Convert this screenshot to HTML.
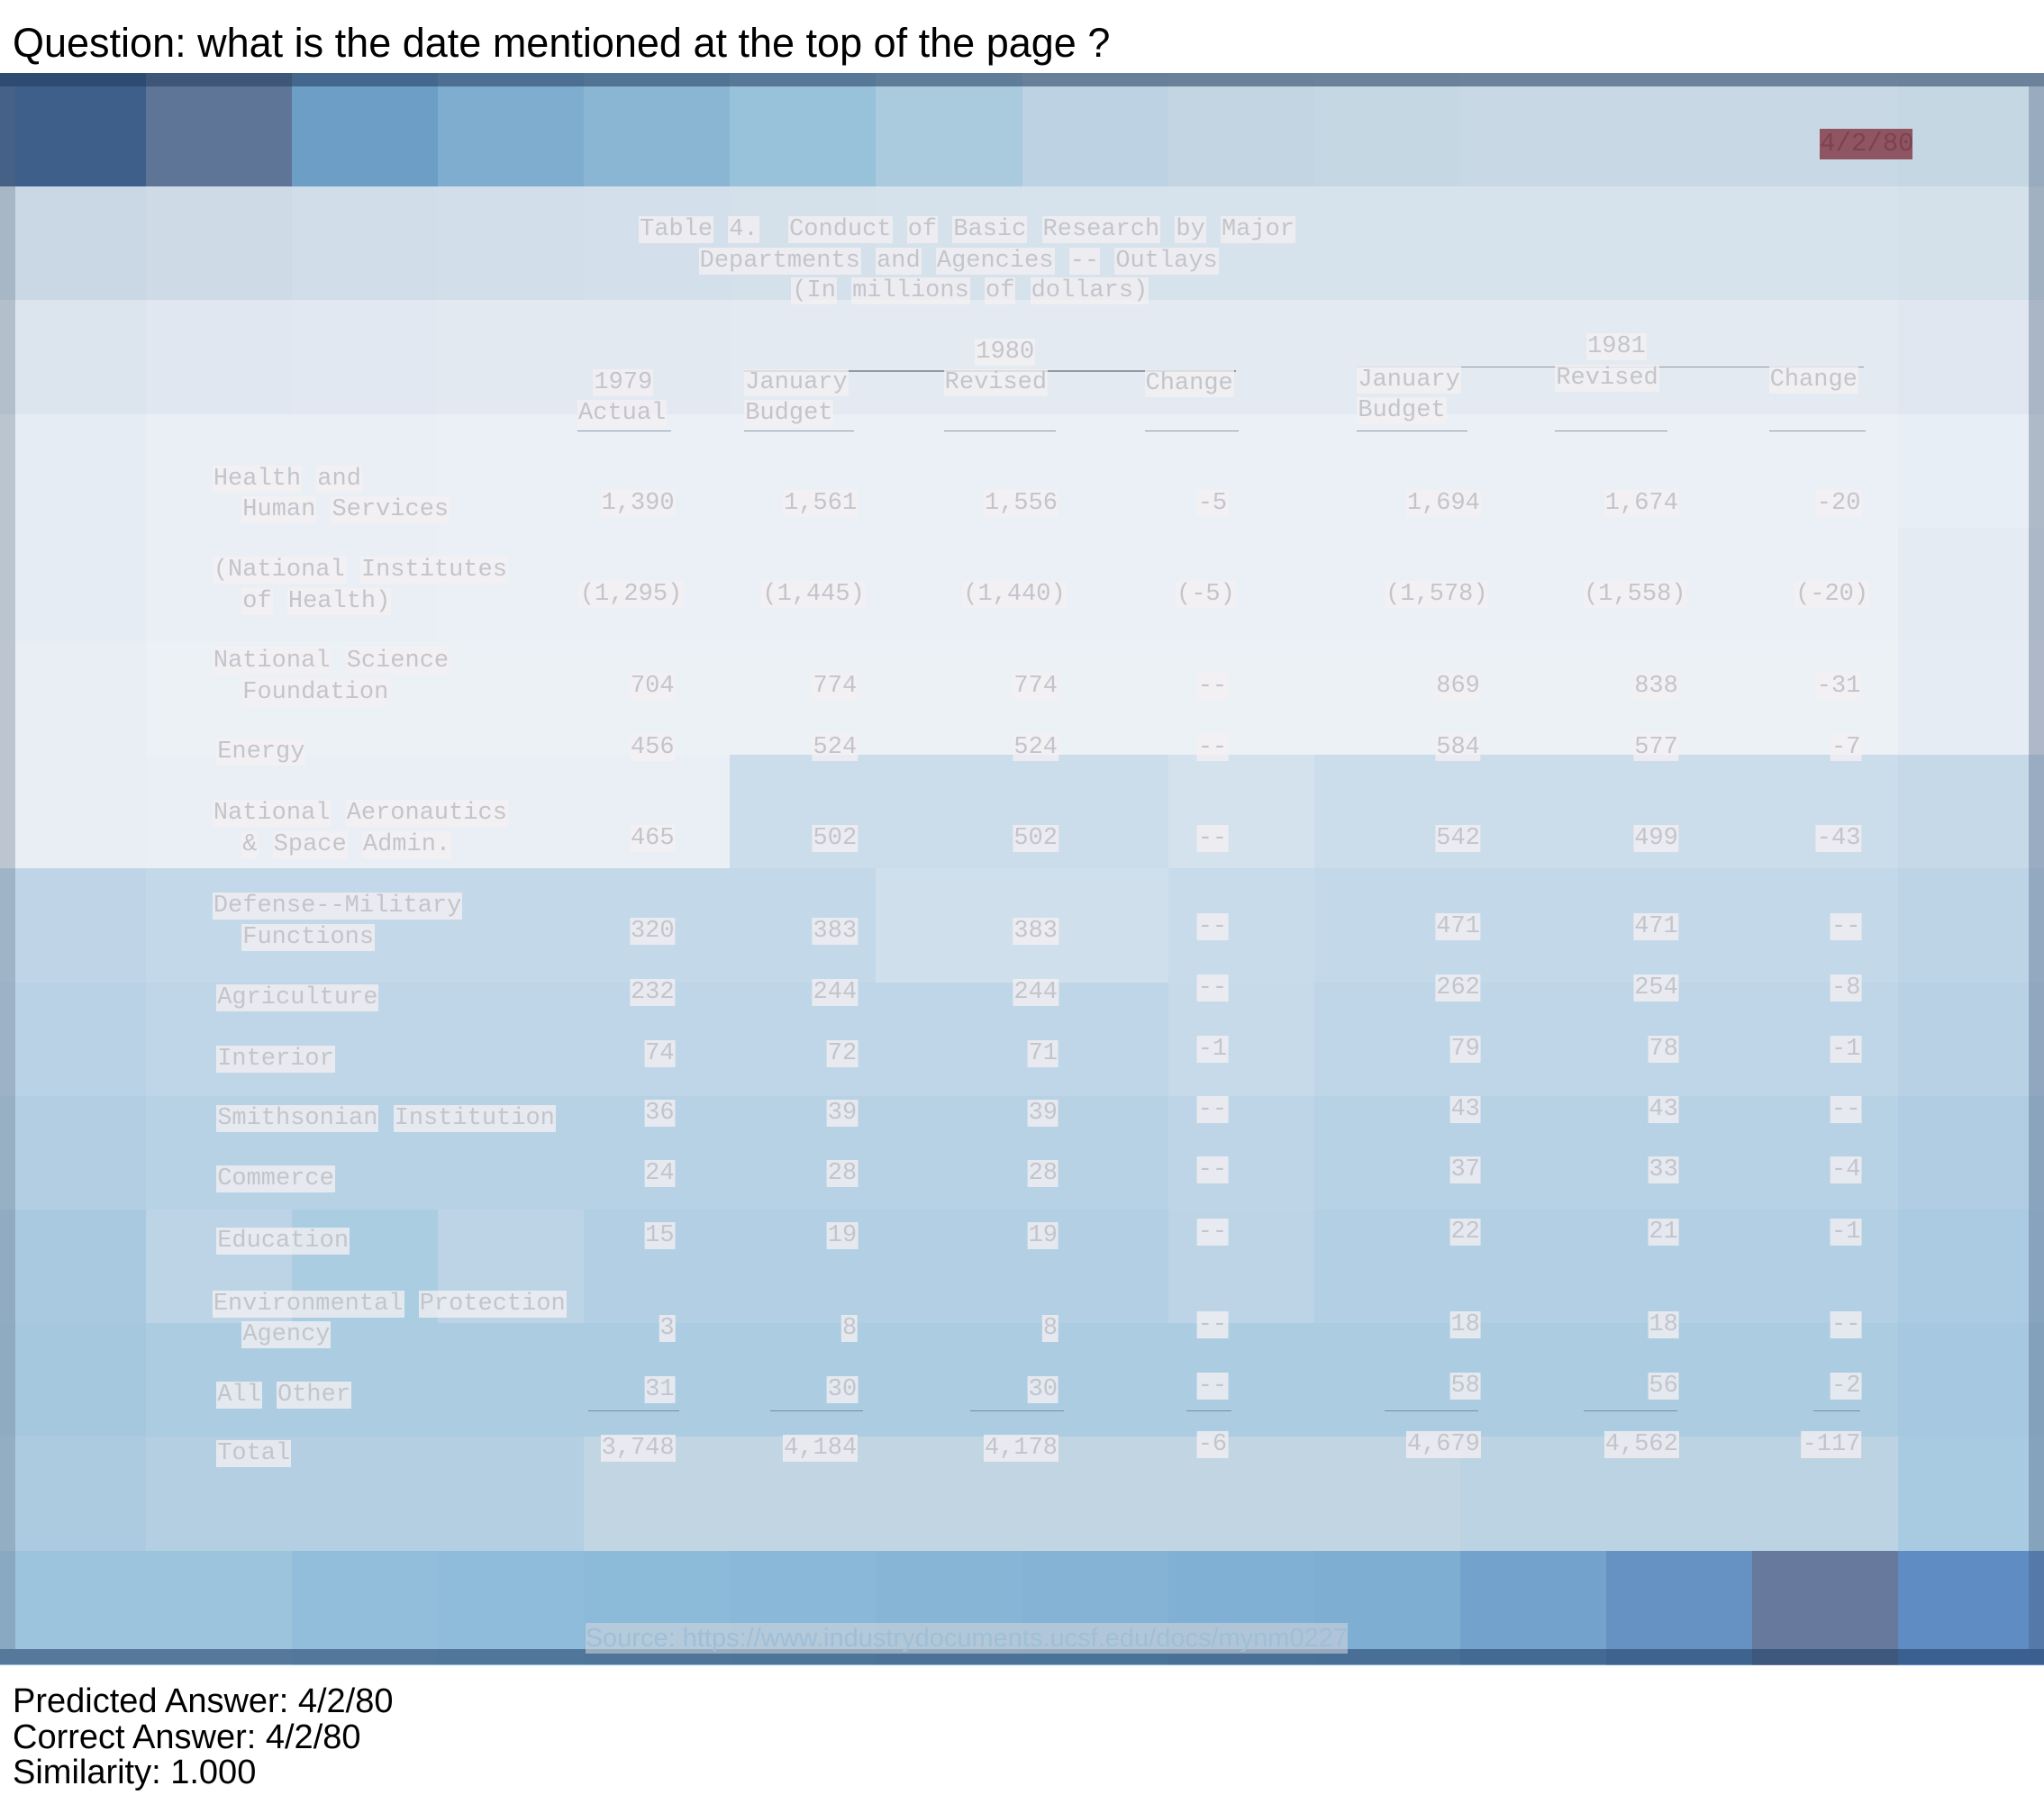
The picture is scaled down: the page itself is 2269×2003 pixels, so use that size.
<!DOCTYPE html>
<html><head><meta charset="utf-8">
<style>
html,body{margin:0;padding:0;background:#fff;}
#root{position:relative;width:2269px;height:2003px;overflow:hidden;background:#fff;font-family:"Liberation Sans",sans-serif;}
.tile{position:absolute;}
.w{position:absolute;font-family:"Liberation Mono",monospace;font-size:27px;line-height:30px;color:#c3c5cc;white-space:pre;}
.w span{background:rgba(244,240,242,0.78);padding:0 1px;}
.r{transform:translateX(-100%);}
.cap{position:absolute;left:14px;font-size:38px;color:#000;white-space:nowrap;}
</style></head>
<body>
<div id="root">
<div class="cap" style="top:22px;font-size:45px">Question: what is the date mentioned at the top of the page ?</div>
<div id="doc"></div>
<div class="cap" style="top:1868px">Predicted Answer: 4/2/80</div>
<div class="cap" style="top:1908px">Correct Answer: 4/2/80</div>
<div class="cap" style="top:1947px">Similarity: 1.000</div>
</div>
<script>
const S=2269/1568;
const tileRows=[
['#3d5f8a','#5f7598','#6d9ec6','#7eadd0','#8ab6d4','#98c1da','#a9cbdd','#bdd2e2','#c3d5e3','#c6d7e4','#c8d8e5','#c8d8e5','#c8d8e5','#c6d7e4'],
['#cad8e5','#cedbe7','#d1dde8','#d2dee9','#d3dfea','#d4e0ea','#d5e1eb','#d6e2ec','#d7e3ec','#d7e3ec','#d7e3ec','#d7e3ec','#d7e3ec','#d4e0ea'],
['#dce4ee','#e0e7f0','#e1e8f1','#e2e9f1','#e2e9f1','#e3eaf2','#e3eaf2','#e3eaf2','#e3eaf2','#e3eaf2','#e3eaf2','#e3eaf2','#e3eaf2','#e0e7f0'],
['#e6ecf3','#eaeff5','#eaeff5','#ebf0f6','#ebf0f6','#ebf0f6','#ebf0f6','#ebf0f6','#ebf0f6','#ebf0f6','#ebf0f6','#ebf0f6','#ebf0f6','#e8eef5'],
['#e6ecf3','#eaeff5','#eaeff5','#ebf0f6','#ebf0f6','#ebf0f6','#ebf0f6','#ebf0f6','#ebf0f6','#ebf0f6','#ebf0f6','#ebf0f6','#ebf0f6','#e4ebf2'],
['#e8eef4','#ecf1f6','#ecf1f6','#ecf1f6','#ecf1f6','#ecf1f6','#ecf1f6','#ecf1f6','#ecf1f6','#ecf1f6','#ecf1f6','#ecf1f6','#ecf1f6','#e6ecf3'],
['#e8eef4','#eaeff5','#eaeff5','#eaeff5','#eaeff5','#cbdcea','#cbdcea','#cbdcea','#d4e2ed','#cbdcea','#cbdcea','#cbdcea','#cbdcea','#c6d9e8'],
['#bfd5e7','#c3d8e9','#c3d8e9','#c3d8e9','#c3d8e9','#c3d8e9','#cfe0ec','#cfe0ec','#c8dbea','#c3d8e9','#c3d8e9','#c3d8e9','#c3d8e9','#bdd4e7'],
['#bad2e6','#bfd6e8','#bfd6e8','#bfd6e8','#bfd6e8','#bfd6e8','#bfd6e8','#bfd6e8','#c6dae9','#bfd6e8','#bfd6e8','#bfd6e8','#bfd6e8','#b8d1e5'],
['#b3cee3','#b7d1e5','#b7d1e5','#b7d1e5','#b7d1e5','#b7d1e5','#b7d1e5','#b7d1e5','#bed5e7','#b7d1e5','#b7d1e5','#b7d1e5','#b7d1e5','#b1cde3'],
['#a9c9e0','#bcd4e6','#aacde2','#bcd4e6','#b3cfe4','#b3cfe4','#b3cfe4','#b3cfe4','#bcd4e6','#b3cfe4','#b3cfe4','#b3cfe4','#b3cfe4','#abcbe2'],
['#a6c8df','#acCCE2','#acCCE2','#acCCE2','#acCCE2','#acCCE2','#acCCE2','#acCCE2','#acCCE2','#acCCE2','#acCCE2','#acCCE2','#acCCE2','#a6c8e0'],
['#adcbe0','#b3cfe1','#b3cfe1','#b3cfe1','#c2d5e3','#c2d5e3','#c2d5e3','#c2d5e3','#c2d5e3','#c2d5e3','#bcd3e3','#bcd3e3','#bcd3e3','#a8cbe2'],
['#9cc4dd','#9cc4dd','#92bedb','#8fbcda','#8cbad9','#8ab8d8','#86b5d6','#84b3d5','#80b0d3','#7eaed2','#73a3cd','#6592c2','#67799c','#5f8cc3']
];
const doc=document.getElementById('doc');
const top0=56,rowH=(1277-56)/14,colW=112;
tileRows.forEach((row,ri)=>row.forEach((c,ci)=>{
  const d=document.createElement('div');
  
  
  d.className='tile';
  d.style.left=(ci*colW*S)+'px';d.style.top=((top0+ri*rowH)*S)+'px';
  d.style.width=(colW*S+1)+'px';d.style.height=(rowH*S+1)+'px';d.style.background=c;
  doc.appendChild(d);
}));
function box(x,y,w,h,bg,name){
  const d=document.createElement('div');
  
  
  d.style.cssText=`position:absolute;left:${x*S}px;top:${y*S}px;width:${w*S}px;height:${h*S}px;background:${bg}`;
  doc.appendChild(d);return d;
}
box(0,56,1568,10,'rgba(35,60,95,0.55)','frame-top');
box(0,66,12,1199,'rgba(90,105,125,0.3)','frame-left');
box(1556,66,12,1199,'rgba(70,90,120,0.35)','frame-right');
box(0,1265,1568,12,'rgba(30,60,100,0.55)','frame-bottom');
function txt(x,y,s,right,name){
  const d=document.createElement('div');
  
  
  d.className='w'+(right?' r':'');
  d.style.left=(x*S)+'px';d.style.top=(y*S)+'px';
  s.split(/( +)/).forEach(p=>{
    if(/^ +$/.test(p)){d.appendChild(document.createTextNode(p));}
    else if(p){const sp=document.createElement('span');sp.textContent=p;d.appendChild(sp);}
  });
  doc.appendChild(d);
}
function line(x1,x2,y,name){box(x1,y,x2-x1,1.2,'rgba(90,100,115,0.6)',name);}
const dt=document.createElement('div');


dt.style.cssText=`position:absolute;left:${1396*S}px;top:${99*S}px;width:${71*S}px;height:${23*S}px;background:#8f5563;color:#7b4250;font-family:"Liberation Mono",monospace;font-size:29px;line-height:${23*S}px;text-align:center`;
dt.textContent='4/2/80';doc.appendChild(dt);
txt(490,166,'Table 4.  Conduct of Basic Research by Major',false,'table-title');
txt(536,190,'Departments and Agencies -- Outlays',false,'table-subtitle');
txt(607,213,'(In millions of dollars)',false,'table-units');
txt(748,260,'1980',false,'header-1980');
txt(1217,256,'1981',false,'header-1981');
line(571,948,284,'rule-1980');line(1041,1430,281,'rule-1981');
const hdr=[[455,283,'1979'],[443,307,'Actual'],[571,283,'January'],[571,307,'Budget'],[724,283,'Revised'],[878,284,'Change'],[1041,281,'January'],[1041,305,'Budget'],[1193,280,'Revised'],[1357,281,'Change']];
hdr.forEach(h=>txt(h[0],h[1],h[2],false,'column-header'));
[[443,515],[571,655],[724,810],[878,950],[1041,1126],[1193,1279],[1357,1431]].forEach(u=>line(u[0],u[1],330,'header-underline'));
const labels=[['Health and','  Human Services'],['(National Institutes','  of Health)'],['National Science','  Foundation'],['Energy'],['National Aeronautics','  & Space Admin.'],['Defense--Military','  Functions'],['Agriculture'],['Interior'],['Smithsonian Institution'],['Commerce'],['Education'],['Environmental Protection','  Agency'],['All Other'],['Total']];
const rowsY=[376,446,516,563,633,704,751,798,844,890,938,1009,1056,1101];
const values=[
['1,390','1,561','1,556','-5','1,694','1,674','-20'],
['(1,295)','(1,445)','(1,440)','(-5)','(1,578)','(1,558)','(-20)'],
['704','774','774','--','869','838','-31'],
['456','524','524','--','584','577','-7'],
['465','502','502','--','542','499','-43'],
['320','383','383','--','471','471','--'],
['232','244','244','--','262','254','-8'],
['74','72','71','-1','79','78','-1'],
['36','39','39','--','43','43','--'],
['24','28','28','--','37','33','-4'],
['15','19','19','--','22','21','-1'],
['3','8','8','--','18','18','--'],
['31','30','30','--','58','56','-2'],
['3,748','4,184','4,178','-6','4,679','4,562','-117']
];
const colRight=[518,658,812,942,1136,1288,1428];
labels.forEach((lb,i)=>{
  const y=rowsY[i];
  if(lb.length===2){txt(163,y-19,lb[0],false,'row-label');txt(163,y+5,lb[1],false,'row-label');}
  else txt(166,y+4,lb[0],false,'row-label');
  values[i].forEach((v,j)=>txt(colRight[j]+(i===1?6:0),i<5||j<3?y:y-3,v,true,'cell-value'));
});
[[451,521],[591,662],[744,816],[910,945],[1062,1134],[1215,1287],[1391,1427]].forEach(u=>line(u[0],u[1],1082,'total-rule'));
const src=document.createElement('div');


src.style.cssText=`position:absolute;left:${449*S}px;top:${1245*S}px;font-family:"Liberation Sans",sans-serif;font-size:29px;line-height:${24*S}px;color:#9fbfd6;background:rgba(215,215,220,0.55);white-space:nowrap`;
src.textContent='Source: https://www.industrydocuments.ucsf.edu/docs/mynm0227';
doc.appendChild(src);
</script>
</body></html>
